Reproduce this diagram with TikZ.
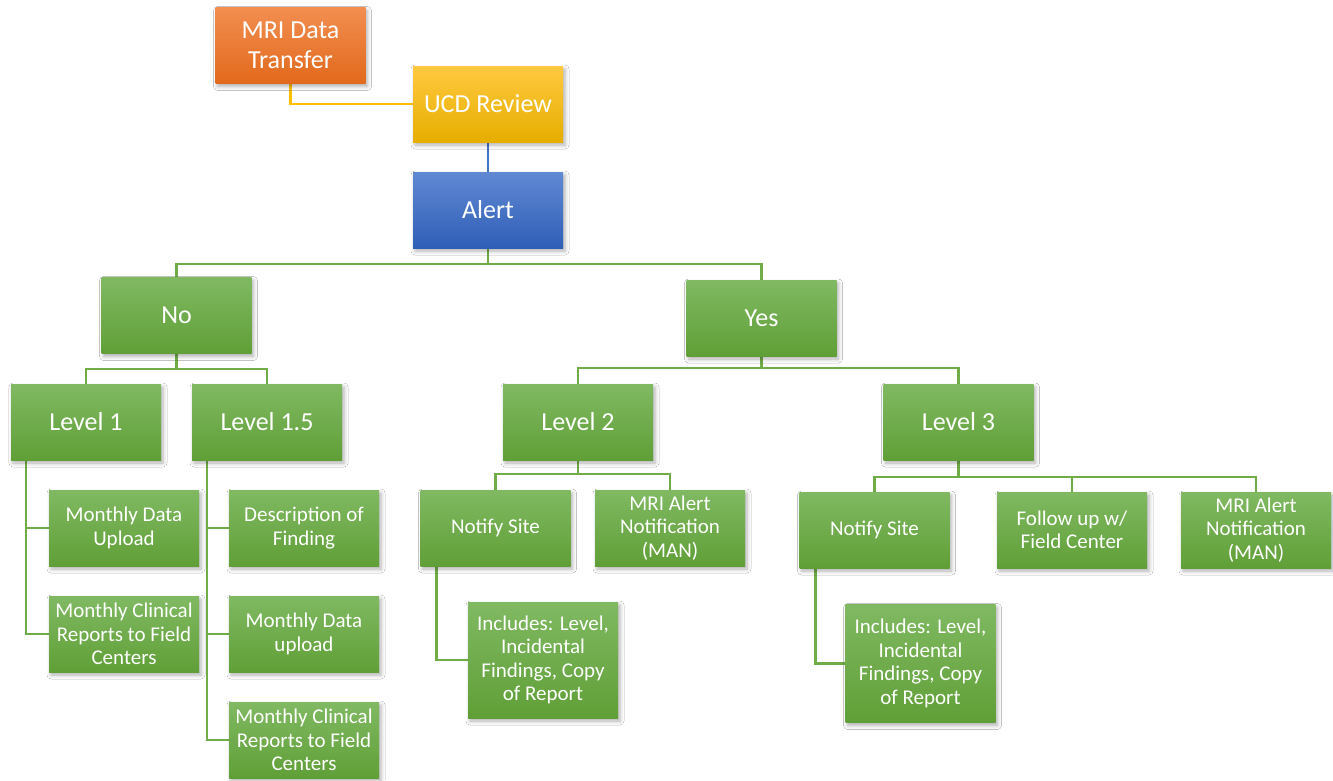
\documentclass[tikz,border=0pt]{standalone}
\usepackage{fontspec}
\setmainfont{Carlito}
\usetikzlibrary{shadows.blur,backgrounds}

\definecolor{orgT}{HTML}{F28E50}
\definecolor{orgB}{HTML}{E2691C}
\definecolor{ylwT}{HTML}{FFC940}
\definecolor{ylwB}{HTML}{E6AE00}
\definecolor{bluT}{HTML}{6189D3}
\definecolor{bluB}{HTML}{2F5EB7}
\definecolor{grnT}{HTML}{80B962}
\definecolor{grnB}{HTML}{609F37}
\definecolor{grnL}{HTML}{70AD47}
\definecolor{ylwL}{HTML}{FFC000}
\definecolor{bluL}{HTML}{4472C4}

\tikzset{
  box/.style={rectangle, minimum width=150pt, minimum height=76pt, inner sep=0pt,
    align=center, text=white, font=\fontsize{21}{23.5}\selectfont,
    blur shadow={shadow xshift=2pt, shadow yshift=-3pt, shadow blur radius=4pt, shadow opacity=32}},
  big/.style={font=\fontsize{26}{30}\selectfont},
  gbox/.style={box, top color=grnT, bottom color=grnB},
  obox/.style={box, big, top color=orgT, bottom color=orgB},
  ybox/.style={box, big, top color=ylwT, bottom color=ylwB},
  bbox/.style={box, big, top color=bluT, bottom color=bluB},
  link/.style={draw=grnL, line width=2.4pt},
}

\begin{document}
\begin{tikzpicture}[x=1pt, y=-1pt]
  \useasboundingbox (0,0) rectangle (1333,780);

  % top chain
  \node[obox] (mri)   at (290.5,45.5) {MRI Data\\Transfer};
  \node[ybox] (ucd)   at (488,104)    {UCD Review};
  \node[bbox] (alert) at (488,210)    {Alert};

  % decision
  \node[gbox, big] (no)  at (176.5,315.5) {No};
  \node[gbox, big] (yes) at (761.5,318)   {Yes};

  % levels
  \node[gbox, big] (l1)  at (86,422)    {Level 1};
  \node[gbox, big] (l15) at (267,422)   {Level 1.5};
  \node[gbox, big] (l2)  at (578,422)   {Level 2};
  \node[gbox, big] (l3)  at (958.5,422) {Level 3};

  % level 1 actions
  \node[gbox] (mdu1) at (124,528) {Monthly Data\\Upload};
  \node[gbox] (mcr1) at (124,634) {Monthly Clinical\\Reports to Field\\Centers};

  % level 1.5 actions
  \node[gbox] (dof)   at (304,528) {Description of\\Finding};
  \node[gbox] (mdu15) at (304,634) {Monthly Data\\upload};
  \node[gbox] (mcr15) at (304,740) {Monthly Clinical\\Reports to Field\\Centers};

  % level 2 actions
  \node[gbox] (ns2)  at (495.5,528) {Notify Site};
  \node[gbox] (man2) at (670,528)   {MRI Alert\\Notification\\(MAN)};
  \node[gbox, minimum height=116pt] (inc2) at (543,660) {Includes: Level,\\Incidental\\Findings, Copy\\of Report};

  % level 3 actions
  \node[gbox] (ns3)  at (874.5,530) {Notify Site};
  \node[gbox] (fu3)  at (1072,530)  {Follow up w/\\Field Center};
  \node[gbox] (man3) at (1256,530)  {MRI Alert\\Notification\\(MAN)};
  \node[gbox, minimum height=118pt] (inc3) at (920.5,663.5) {Includes: Level,\\Incidental\\Findings, Copy\\of Report};

  \begin{scope}[on background layer]
    \fill[white] (0,0) rectangle (1333,780);

    \draw[draw=ylwL, line width=2.4pt] (mri.south) |- (ucd.west);
    \draw[draw=bluL, line width=2.4pt] (ucd.south) -- (alert.north);

    \draw[link] (alert.south) -- ++(0,16) -| (no.north);
    \draw[link] (alert.south) -- ++(0,16) -| (yes.north);

    \draw[link] (no.south) -- ++(0,15) -| (l1.north);
    \draw[link] (no.south) -- ++(0,15) -| (l15.north);
    \draw[link] (yes.south) -- ++(0,12) -| (l2.north);
    \draw[link] (yes.south) -- ++(0,12) -| (l3.north);

    \draw[link] ([xshift=15pt]l1.south west) |- (mdu1.west);
    \draw[link] ([xshift=15pt]l1.south west) |- (mcr1.west);

    \draw[link] ([xshift=15pt]l15.south west) |- (dof.west);
    \draw[link] ([xshift=15pt]l15.south west) |- (mdu15.west);
    \draw[link] ([xshift=15pt]l15.south west) |- (mcr15.west);

    \draw[link] (l2.south) -- ++(0,14) -| (ns2.north);
    \draw[link] (l2.south) -- ++(0,14) -| (man2.north);
    \draw[link] ([xshift=16pt]ns2.south west) |- (inc2.west);

    \draw[link] (l3.south) -- ++(0,17) -| (ns3.north);
    \draw[link] (l3.south) -- ++(0,17) -| (fu3.north);
    \draw[link] (l3.south) -- ++(0,17) -| (man3.north);
    \draw[link] ([xshift=16pt]ns3.south west) |- (inc3.west);
  \end{scope}
\end{tikzpicture}
\end{document}
